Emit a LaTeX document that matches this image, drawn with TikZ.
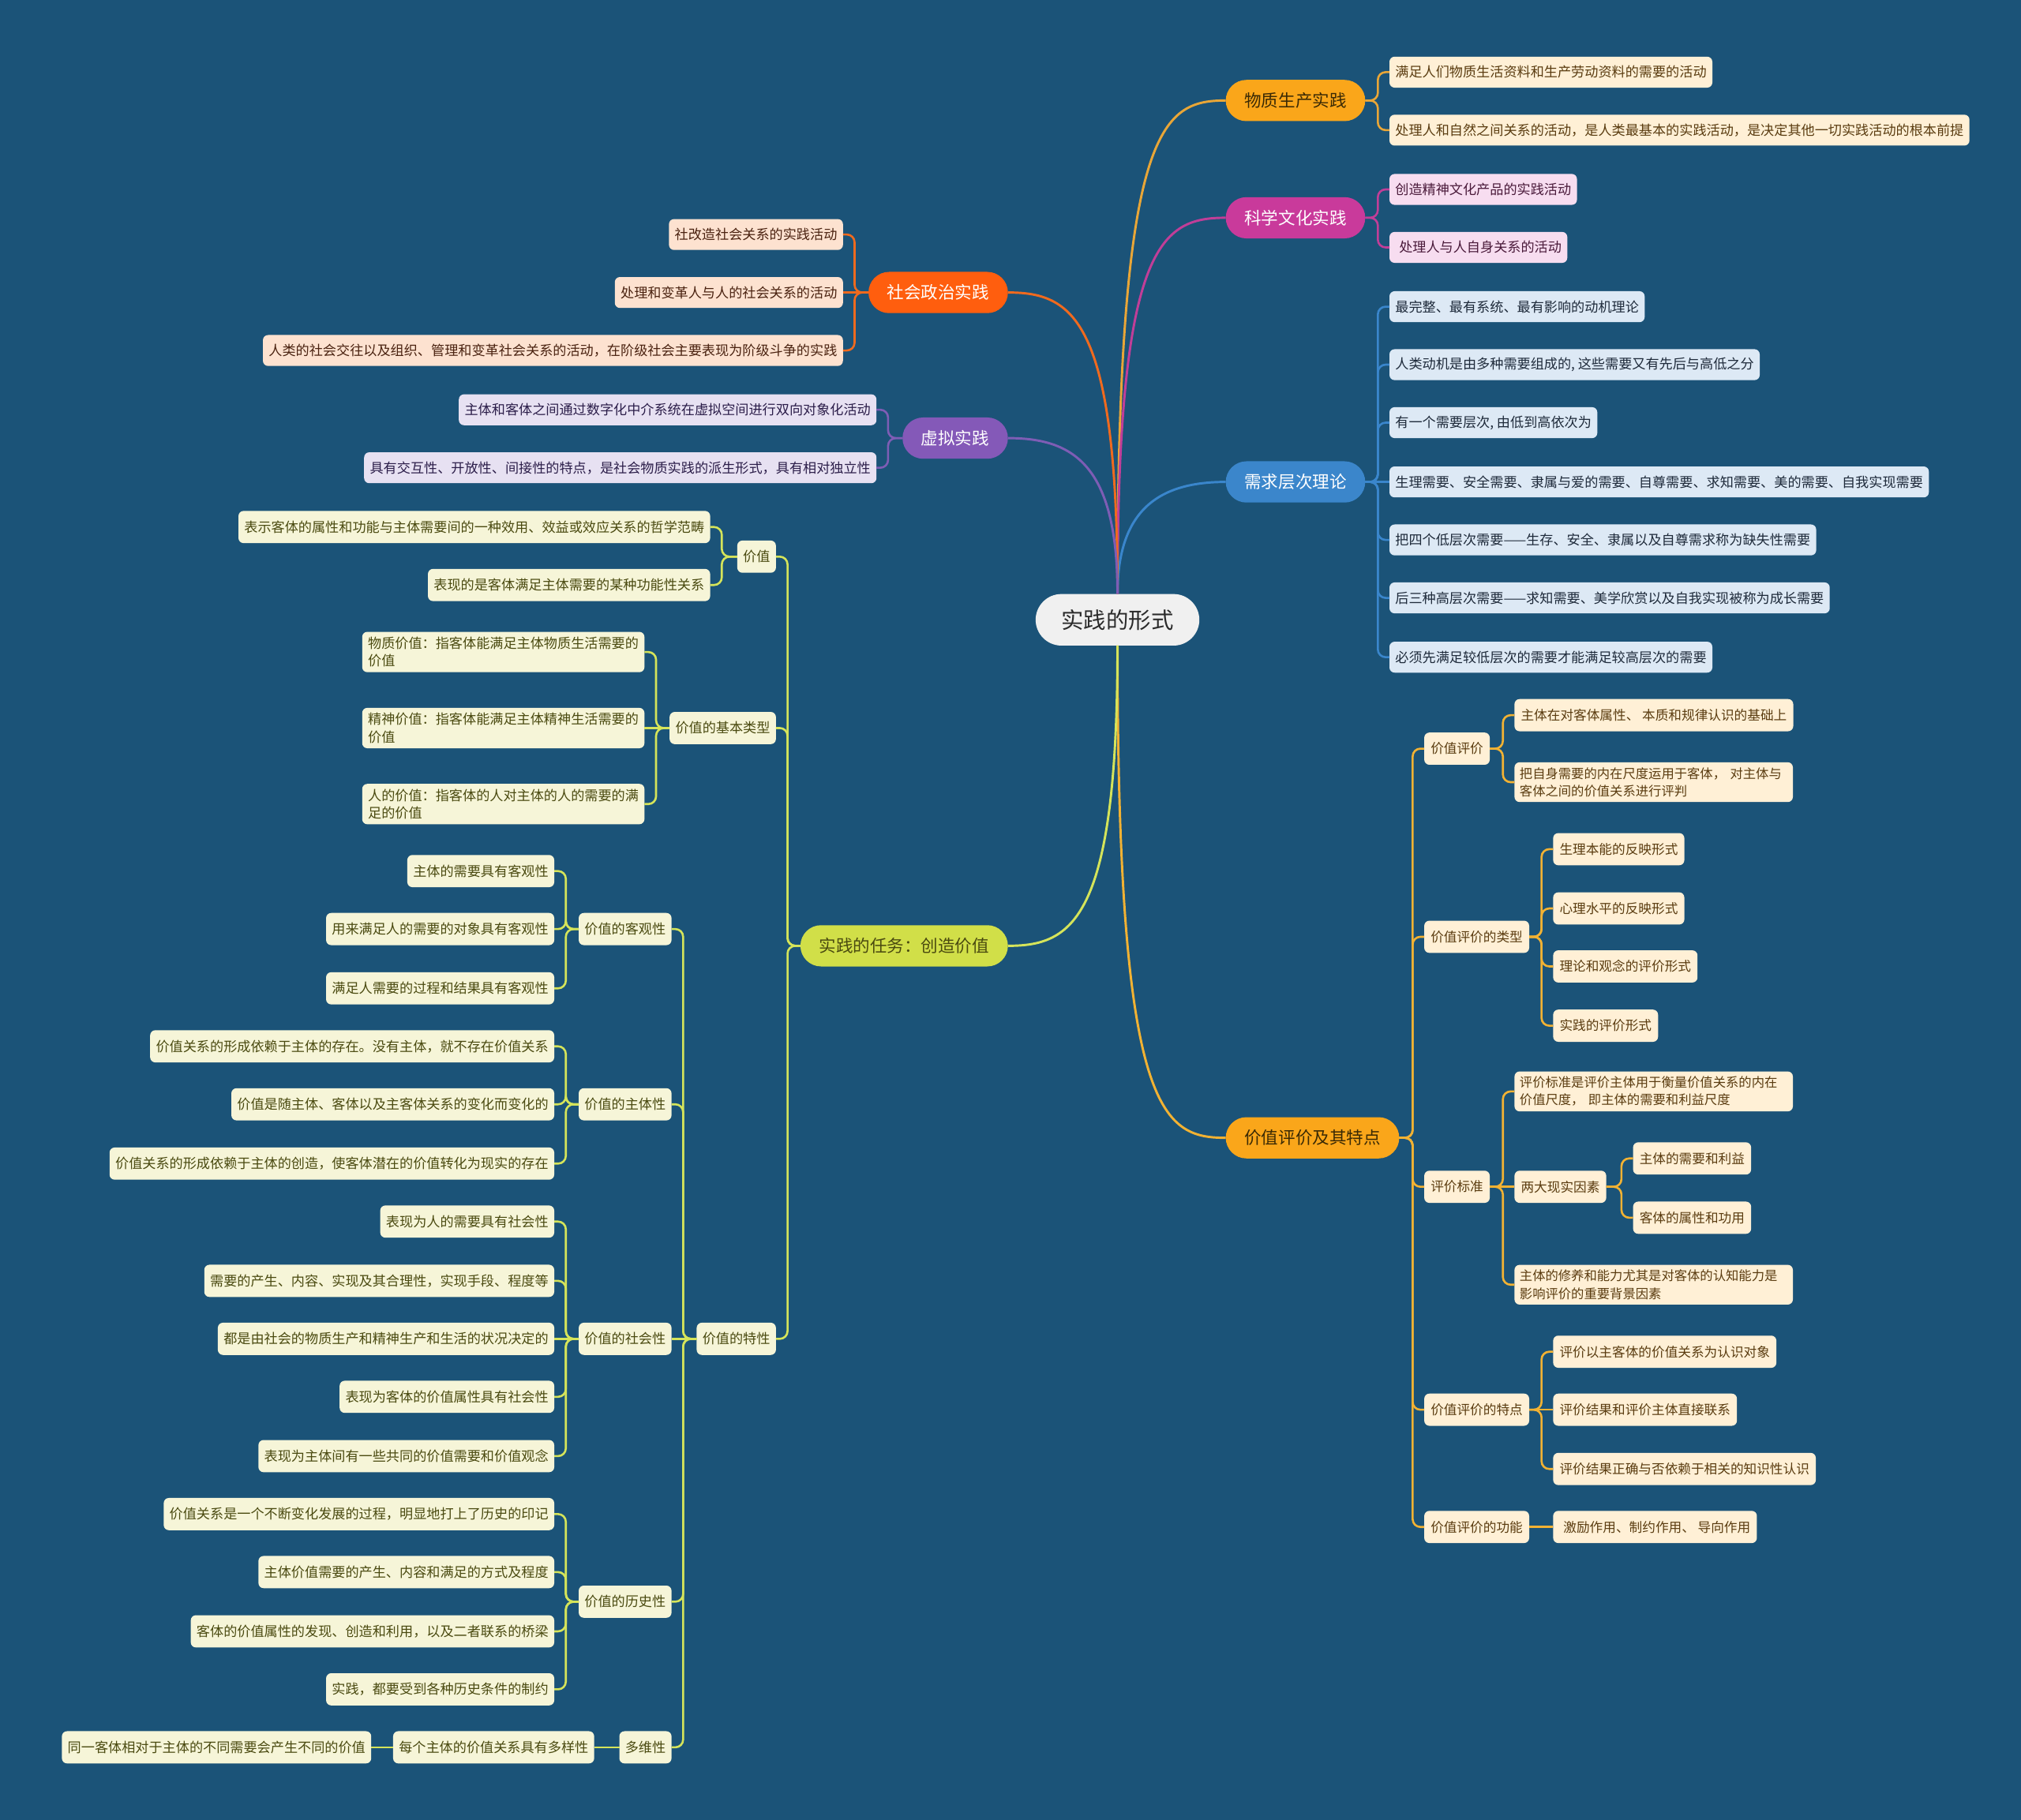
\documentclass[tikz,border=0pt]{standalone}
\usepackage{fontspec}
\setmainfont{Noto Sans CJK SC}
\usetikzlibrary{calc}
\definecolor{bg}{HTML}{1B5378}
\definecolor{rootc}{HTML}{F0F0F0}
\definecolor{roott}{HTML}{2B2B2B}
\definecolor{cOrange}{HTML}{FAA61A}
\definecolor{cMag}{HTML}{C93A9B}
\definecolor{cBlue}{HTML}{3B86CB}
\definecolor{cRed}{HTML}{FF5E0E}
\definecolor{cPurple}{HTML}{8459B8}
\definecolor{cLime}{HTML}{D1DF48}
\definecolor{lOrange}{HTML}{E9A637}
\definecolor{lMag}{HTML}{C13E98}
\definecolor{lBlue}{HTML}{3A86CC}
\definecolor{lGold}{HTML}{F2B233}
\definecolor{lRed}{HTML}{F06A1E}
\definecolor{lPurple}{HTML}{7E5DB5}
\definecolor{lLime}{HTML}{D5E45A}
\definecolor{fCream}{HTML}{FFF0D6}
\definecolor{fPink}{HTML}{F7DDF0}
\definecolor{fBlue}{HTML}{DDE9F5}
\definecolor{fPeach}{HTML}{FDE2D0}
\definecolor{fLav}{HTML}{E7E1F2}
\definecolor{fYel}{HTML}{F6F5D8}
\definecolor{tDark}{HTML}{3A2A05}
\definecolor{tBrown}{HTML}{5A3C10}
\definecolor{tPlum}{HTML}{4A1A3A}
\definecolor{tNavy}{HTML}{1E2A3A}
\definecolor{tRust}{HTML}{4A2210}
\definecolor{tInd}{HTML}{2C1E4A}
\definecolor{tOlive}{HTML}{4A4A10}
\begin{document}
\begin{tikzpicture}[x=1pt,y=-1pt,
  base/.style={inner ysep=0pt, outer sep=0pt},
  rootbox/.style={base, fill=rootc, rounded corners=20pt, minimum height=40pt, inner xsep=20pt, text=roott, font=\fontsize{17.4}{20}\selectfont},
  mainbox/.style={base, rounded corners=16pt, minimum height=32pt, inner xsep=14.5pt, font=\fontsize{13.2}{15}\selectfont},
  leafbox/.style={base, rounded corners=4pt, minimum height=24pt, inner xsep=4.5pt, font=\fontsize{10.5}{12.6}\selectfont},
  subbox/.style={leafbox, minimum height=25pt},
  rbox/.style={leafbox, fill=fCream, text=tBrown, minimum height=25pt, inner xsep=5pt, font=\fontsize{10.2}{12}\selectfont},
  rtwo/.style={rbox, align=left, text width=208pt, inner xsep=4pt, inner ysep=4pt, font=\fontsize{10}{13.5}\selectfont},
  ybox/.style={subbox, fill=fYel, text=tOlive},
  ytwo/.style={leafbox, fill=fYel, text=tOlive, align=left, inner ysep=4pt, font=\fontsize{10.5}{13.5}\selectfont},
  branch/.style={line width=1.8pt},
  conn/.style={line width=1.6pt, rounded corners=6pt},
  flat/.style={line width=1.6pt}
]
\fill[bg] (0,0) rectangle (1568,1412.4);

% ---------- nodes ----------
\node[rootbox] (root) at (867,481) {实践的形式};

\node[mainbox, fill=cOrange, text=tDark, anchor=west] (m1) at (951,78) {物质生产实践};
\node[mainbox, fill=cMag, text=white, anchor=west] (m2) at (951,169) {科学文化实践};
\node[mainbox, fill=cBlue, text=white, anchor=west] (m3) at (951,374) {需求层次理论};
\node[mainbox, fill=cOrange, text=tDark, anchor=west] (m4) at (951,883) {价值评价及其特点};
\node[mainbox, fill=cRed, text=white, anchor=east] (m5) at (782,227) {社会政治实践};
\node[mainbox, fill=cPurple, text=white, anchor=east] (m6) at (782,340) {虚拟实践};
\node[mainbox, fill=cLime, text=tOlive, anchor=east] (m7) at (782,734) {实践的任务：创造价值};

% m1
\node[leafbox, fill=fCream, text=tBrown, anchor=west] (a1) at (1078,56) {满足人们物质生活资料和生产劳动资料的需要的活动};
\node[leafbox, fill=fCream, text=tBrown, anchor=west] (a2) at (1078,101) {处理人和自然之间关系的活动，是人类最基本的实践活动，是决定其他一切实践活动的根本前提};
% m2
\node[leafbox, fill=fPink, text=tPlum, anchor=west] (b1) at (1078,147) {创造精神文化产品的实践活动};
\node[leafbox, fill=fPink, text=tPlum, anchor=west] (b2) at (1078,192) {\hspace{3pt}处理人与人自身关系的活动};
% m3
\node[leafbox, fill=fBlue, text=tNavy, anchor=west] (c1) at (1078,238) {最完整、最有系统、最有影响的动机理论};
\node[leafbox, fill=fBlue, text=tNavy, anchor=west] (c2) at (1078,283) {人类动机是由多种需要组成的, 这些需要又有先后与高低之分};
\node[leafbox, fill=fBlue, text=tNavy, anchor=west] (c3) at (1078,328) {有一个需要层次, 由低到高依次为};
\node[leafbox, fill=fBlue, text=tNavy, anchor=west] (c4) at (1078,374) {生理需要、安全需要、隶属与爱的需要、自尊需要、求知需要、美的需要、自我实现需要};
\node[leafbox, fill=fBlue, text=tNavy, anchor=west] (c5) at (1078,419) {把四个低层次需要——生存、安全、隶属以及自尊需求称为缺失性需要};
\node[leafbox, fill=fBlue, text=tNavy, anchor=west] (c6) at (1078,464) {后三种高层次需要——求知需要、美学欣赏以及自我实现被称为成长需要};
\node[leafbox, fill=fBlue, text=tNavy, anchor=west] (c7) at (1078,510) {必须先满足较低层次的需要才能满足较高层次的需要};
% m4
\node[rbox, anchor=west] (d1) at (1105,581) {价值评价};
\node[rbox, anchor=west] (d11) at (1175,555) {主体在对客体属性、 本质和规律认识的基础上};
\node[rtwo, anchor=west] (d12) at (1175,607) {把自身需要的内在尺度运用于客体，~对主体与\\客体之间的价值关系进行评判};
\node[rbox, anchor=west] (d2) at (1105,727) {价值评价的类型};
\node[rbox, anchor=west] (d21) at (1205,659) {生理本能的反映形式};
\node[rbox, anchor=west] (d22) at (1205,705) {心理水平的反映形式};
\node[rbox, anchor=west] (d23) at (1205,750) {理论和观念的评价形式};
\node[rbox, anchor=west] (d24) at (1205,796) {实践的评价形式};
\node[rbox, anchor=west] (d3) at (1105,921) {评价标准};
\node[rtwo, anchor=west] (d31) at (1175,847) {评价标准是评价主体用于衡量价值关系的内在\\价值尺度，~即主体的需要和利益尺度};
\node[rbox, anchor=west] (d32) at (1175,921) {两大现实因素};
\node[rbox, anchor=west] (d321) at (1267,899) {主体的需要和利益};
\node[rbox, anchor=west] (d322) at (1267,945) {客体的属性和功用};
\node[rtwo, anchor=west] (d33) at (1175,997) {主体的修养和能力尤其是对客体的认知能力是\\影响评价的重要背景因素};
\node[rbox, anchor=west] (d4) at (1105,1094) {价值评价的特点};
\node[rbox, anchor=west] (d41) at (1205,1049) {评价以主客体的价值关系为认识对象};
\node[rbox, anchor=west] (d42) at (1205,1094) {评价结果和评价主体直接联系};
\node[rbox, anchor=west] (d43) at (1205,1140) {评价结果正确与否依赖于相关的知识性认识};
\node[rbox, anchor=west] (d5) at (1105,1185) {价值评价的功能};
\node[rbox, anchor=west] (d51) at (1205,1185) {\hspace{3pt}激励作用、制约作用、 导向作用};
% m5
\node[leafbox, fill=fPeach, text=tRust, anchor=east] (e1) at (654,182) {社改造社会关系的实践活动};
\node[leafbox, fill=fPeach, text=tRust, anchor=east] (e2) at (654,227) {处理和变革人与人的社会关系的活动};
\node[leafbox, fill=fPeach, text=tRust, anchor=east] (e3) at (654,272) {人类的社会交往以及组织、管理和变革社会关系的活动，在阶级社会主要表现为阶级斗争的实践};
% m6
\node[leafbox, fill=fLav, text=tInd, anchor=east] (f1) at (680,318) {主体和客体之间通过数字化中介系统在虚拟空间进行双向对象化活动};
\node[leafbox, fill=fLav, text=tInd, anchor=east] (f2) at (680,363) {具有交互性、开放性、间接性的特点，是社会物质实践的派生形式，具有相对独立性};
% m7
\node[ybox, anchor=east] (g1) at (602,432) {价值};
\node[ybox, anchor=east] (g11) at (551,409) {表示客体的属性和功能与主体需要间的一种效用、效益或效应关系的哲学范畴};
\node[ybox, anchor=east] (g12) at (551,454) {表现的是客体满足主体需要的某种功能性关系};
\node[ybox, anchor=east] (g2) at (602,565) {价值的基本类型};
\node[ytwo, anchor=east] (g21) at (500,506) {物质价值：指客体能满足主体物质生活需要的\\价值};
\node[ytwo, anchor=east] (g22) at (500,565) {精神价值：指客体能满足主体精神生活需要的\\价值};
\node[ytwo, anchor=east] (g23) at (500,624) {人的价值：指客体的人对主体的人的需要的满\\足的价值};
\node[ybox, anchor=east] (g3) at (602,1039) {价值的特性};
\node[ybox, anchor=east] (h1) at (521,721) {价值的客观性};
\node[ybox, anchor=east] (h11) at (430,676) {主体的需要具有客观性};
\node[ybox, anchor=east] (h12) at (430,721) {用来满足人的需要的对象具有客观性};
\node[ybox, anchor=east] (h13) at (430,767) {满足人需要的过程和结果具有客观性};
\node[ybox, anchor=east] (h2) at (521,857) {价值的主体性};
\node[ybox, anchor=east] (h21) at (430,812) {价值关系的形成依赖于主体的存在。没有主体，就不存在价值关系};
\node[ybox, anchor=east] (h22) at (430,857) {价值是随主体、客体以及主客体关系的变化而变化的};
\node[ybox, anchor=east] (h23) at (430,903) {价值关系的形成依赖于主体的创造，使客体潜在的价值转化为现实的存在};
\node[ybox, anchor=east] (h3) at (521,1039) {价值的社会性};
\node[ybox, anchor=east] (h31) at (430,948) {表现为人的需要具有社会性};
\node[ybox, anchor=east] (h32) at (430,994) {需要的产生、内容、实现及其合理性，实现手段、程度等};
\node[ybox, anchor=east] (h33) at (430,1039) {都是由社会的物质生产和精神生产和生活的状况决定的};
\node[ybox, anchor=east] (h34) at (430,1084) {表现为客体的价值属性具有社会性};
\node[ybox, anchor=east] (h35) at (430,1130) {表现为主体间有一些共同的价值需要和价值观念};
\node[ybox, anchor=east] (h4) at (521,1243) {价值的历史性};
\node[ybox, anchor=east] (h41) at (430,1175) {价值关系是一个不断变化发展的过程，明显地打上了历史的印记};
\node[ybox, anchor=east] (h42) at (430,1220) {主体价值需要的产生、内容和满足的方式及程度};
\node[ybox, anchor=east] (h43) at (430,1266) {客体的价值属性的发现、创造和利用，以及二者联系的桥梁};
\node[ybox, anchor=east] (h44) at (430,1311) {实践，都要受到各种历史条件的制约};
\node[ybox, anchor=east] (h5) at (521,1356) {多维性};
\node[ybox, anchor=east] (h51) at (461,1356) {每个主体的价值关系具有多样性};
\node[ybox, anchor=east] (h511) at (288,1356) {同一客体相对于主体的不同需要会产生不同的价值};

% ---------- main branches ----------
\foreach \m/\c in {m1/lOrange, m2/lMag, m3/lBlue}
  \draw[branch, \c] (root.north) .. controls ($(root.north |- \m.west)+(0,20)$) and ($(\m.west)+(-50,0)$) .. (\m.west);
\foreach \m/\c in {m5/lRed, m6/lPurple}
  \draw[branch, \c] (root.north) .. controls ($(root.north |- \m.east)+(0,20)$) and ($(\m.east)+(50,0)$) .. (\m.east);
\draw[branch, lGold] (root.south) .. controls ($(root.south |- m4.west)+(0,-20)$) and ($(m4.west)+(-50,0)$) .. (m4.west);
\draw[branch, lLime] (root.south) .. controls ($(root.south |- m7.east)+(0,-20)$) and ($(m7.east)+(50,0)$) .. (m7.east);

% ---------- right connectors (elbow) ----------
\foreach \p/\c/\k in {m1/a1/lOrange, m1/a2/lOrange, m2/b1/lMag, m2/b2/lMag,
  m3/c1/lBlue, m3/c2/lBlue, m3/c3/lBlue, m3/c5/lBlue, m3/c6/lBlue, m3/c7/lBlue,
  m4/d1/lGold, m4/d2/lGold, m4/d3/lGold, m4/d4/lGold, m4/d5/lGold,
  d1/d11/lGold, d1/d12/lGold, d2/d21/lGold, d2/d22/lGold, d2/d23/lGold, d2/d24/lGold,
  d3/d31/lGold, d3/d33/lGold, d32/d321/lGold, d32/d322/lGold,
  d4/d41/lGold, d4/d43/lGold}
  \draw[conn, \k] (\p.east) -| ($(\c.west)+(-9,0)$) -- (\c.west);
% right connectors (straight)
\foreach \p/\c/\k in {m3/c4/lBlue, d3/d32/lGold, d4/d42/lGold, d5/d51/lGold}
  \draw[flat, \k] (\p.east) -- (\c.west);

% ---------- left connectors (elbow) ----------
\foreach \p/\c/\k in {m5/e1/lRed, m5/e3/lRed, m6/f1/lPurple, m6/f2/lPurple,
  m7/g1/lLime, m7/g2/lLime, m7/g3/lLime, g1/g11/lLime, g1/g12/lLime,
  g2/g21/lLime, g2/g23/lLime,
  g3/h1/lLime, g3/h2/lLime, g3/h4/lLime, g3/h5/lLime,
  h1/h11/lLime, h1/h12/lLime, h1/h13/lLime, h2/h21/lLime, h2/h22/lLime, h2/h23/lLime,
  h3/h31/lLime, h3/h32/lLime, h3/h34/lLime, h3/h35/lLime,
  h4/h41/lLime, h4/h42/lLime, h4/h43/lLime, h4/h44/lLime}
  \draw[conn, \k] (\p.west) -| ($(\c.east)+(9,0)$) -- (\c.east);
% left connectors (straight)
\foreach \p/\c/\k in {m5/e2/lRed, g2/g22/lLime, g3/h3/lLime, h3/h33/lLime, h5/h51/lLime, h51/h511/lLime}
  \draw[flat, \k] (\p.west) -- (\c.east);
\end{tikzpicture}
\end{document}
